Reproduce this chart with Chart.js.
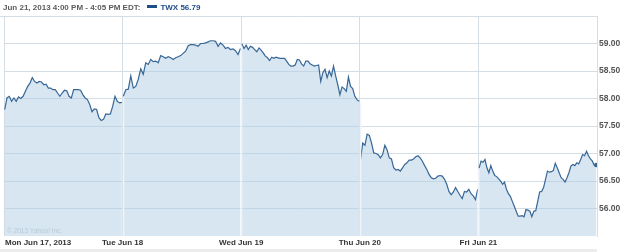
<!DOCTYPE html>
<html>
<head>
<meta charset="utf-8">
<script src="https://cdn.jsdelivr.net/npm/chart.js@4.4.1/dist/chart.umd.min.js"></script>
<style>
  body { margin: 0; background: #fff; }
  #wrap { position: relative; width: 625px; height: 252px; }
  #head {
    position: absolute; top: 3px; left: 3px;
    font: bold 8px "Liberation Sans", Arial, sans-serif; color: #5b5b5b;
    white-space: nowrap; pointer-events: none;
  }
  #head .sw { display: inline-block; width: 10px; height: 3px; background: #1f4f8a; margin: 0 3px 0 7px; vertical-align: 2px; }
  #head .tk { color: #1f4f8a; }
</style>
</head>
<body>
<div id="wrap">
  <canvas id="chart" width="625" height="252"></canvas>
  <div id="head">Jun 21, 2013 4:00 PM - 4:05 PM EDT:<span class="sw"></span><span class="tk" id="tk"></span></div>
</div>
<script>
// Подписи дней и деления оси
const dayLabels = ["Mon Jun 17, 2013", "Tue Jun 18", "Wed Jun 19", "Thu Jun 20", "Fri Jun 21"];
const yTicks = [56, 56.5, 57, 57.5, 58, 58.5, 59];
const ticker = "TWX";

// Цены по дням (шаг ~5 минут)
const monValues = [57.80, 58.01, 58.04, 57.95, 58.01, 57.95, 58.03, 58.00, 58.04, 58.13, 58.22, 58.28, 58.38, 58.31, 58.28, 58.31, 58.30, 58.25, 58.26, 58.19, 58.19, 58.16, 58.16, 58.10, 58.04, 58.10, 58.15, 58.14, 58.04, 58.01, 58.16, 58.16, 58.16, 58.15, 58.07, 58.01, 57.98, 57.89, 57.76, 57.81, 57.80, 57.65, 57.60, 57.62, 57.72, 57.71, 57.72, 57.86, 58.04, 57.95, 57.92, 57.93];
const tueValues = [58.04, 58.16, 58.17, 58.41, 58.19, 58.22, 58.35, 58.54, 58.44, 58.65, 58.62, 58.71, 58.67, 58.68, 58.65, 58.78, 58.76, 58.73, 58.76, 58.74, 58.71, 58.74, 58.76, 58.78, 58.82, 58.86, 58.96, 58.98, 58.98, 58.97, 58.95, 59.00, 59.00, 59.01, 59.03, 59.05, 59.05, 59.04, 58.95, 59.01, 58.97, 58.91, 58.93, 58.89, 58.90, 58.87, 58.80, 58.91];
const wedValues = [58.99, 58.91, 58.97, 58.89, 58.95, 58.93, 58.89, 58.85, 58.92, 58.88, 58.83, 58.77, 58.74, 58.69, 58.75, 58.73, 58.75, 58.74, 58.73, 58.73, 58.73, 58.68, 58.62, 58.59, 58.59, 58.61, 58.71, 58.70, 58.63, 58.59, 58.68, 58.68, 58.63, 58.61, 58.59, 58.60, 58.61, 58.31, 58.47, 58.53, 58.38, 58.50, 58.41, 58.59, 58.41, 58.25, 58.07, 58.21, 58.18, 58.13, 58.39, 58.22, 58.18, 58.04, 57.98, 57.95];
const thuValues = [56.89, 57.19, 57.15, 57.35, 57.33, 57.19, 57.01, 57.00, 56.98, 56.92, 56.98, 57.15, 57.07, 56.92, 56.90, 56.74, 56.70, 56.71, 56.68, 56.74, 56.80, 56.83, 56.88, 56.88, 56.90, 56.94, 56.96, 56.92, 56.86, 56.78, 56.71, 56.62, 56.56, 56.54, 56.55, 56.59, 56.60, 56.59, 56.53, 56.44, 56.31, 56.25, 56.30, 56.38, 56.31, 56.24, 56.18, 56.31, 56.30, 56.35, 56.27, 56.23, 56.16, 56.35];
const friValues = [56.74, 56.86, 56.84, 56.89, 56.74, 56.65, 56.78, 56.68, 56.60, 56.58, 56.54, 56.50, 56.44, 56.48, 56.35, 56.27, 56.22, 56.13, 56.04, 55.95, 55.86, 55.86, 55.87, 55.85, 55.98, 55.97, 55.95, 55.85, 55.95, 55.96, 56.13, 56.30, 56.31, 56.38, 56.53, 56.68, 56.66, 56.67, 56.69, 56.82, 56.74, 56.65, 56.56, 56.53, 56.48, 56.56, 56.65, 56.77, 56.80, 56.78, 56.83, 56.81, 56.89, 56.98, 56.96, 57.04, 56.96, 56.90, 56.86, 56.78, 56.79];

const days = [monValues, tueValues, wedValues, thuValues, friValues];
const lastPrice = friValues[friValues.length - 1];
document.getElementById("tk").textContent = `${ticker} ${lastPrice.toFixed(2)}`;

const LINE = "#386796";
const FILL = "rgba(175, 205, 227, 0.5)";
const GRID = "#d5dde5";

// Каждый торговый день растягиваем на свою долю оси X
const datasets = days.map((vals, d) => ({
  data: vals.map((v, i) => ({ x: d + 0.006 + (i / (vals.length - 1)) * 0.988, y: v })),
  borderColor: LINE,
  borderWidth: 1.2,
  backgroundColor: FILL,
  fill: "start",
  tension: 0,
  pointRadius: (c) => (d === 4 && c.dataIndex === vals.length - 1 ? 2.2 : 0),
  pointBackgroundColor: LINE,
  pointBorderWidth: 0,
}));

const decor = {
  id: "decor",
  beforeDraw(chart) {
    const { ctx, width, height } = chart;
    ctx.save();
    ctx.fillStyle = "#fff";
    ctx.fillRect(0, 0, width, height);
    ctx.fillStyle = "#ececec";
    ctx.fillRect(0, height - 3, chart.chartArea.right, 3);
    ctx.restore();
  },
  afterDatasetsDraw(chart) {
    const { ctx, chartArea: a, scales } = chart;
    const xs = scales.x, ys = scales.y;
    ctx.save();
    // светлые разделители дней внутри заливки
    ctx.strokeStyle = "#eef4f9";
    ctx.lineWidth = 1.5;
    for (let b = 1; b < days.length; b++) {
      const prev = days[b - 1][days[b - 1].length - 1];
      const next = days[b][0];
      const px = Math.round(xs.getPixelForValue(b)) + 0.5;
      const top = ys.getPixelForValue(Math.max(prev, next)) + 1.5;
      ctx.beginPath();
      ctx.moveTo(px, top);
      ctx.lineTo(px, a.bottom);
      ctx.stroke();
    }
    // верхняя граница
    ctx.strokeStyle = GRID;
    ctx.lineWidth = 1;
    ctx.beginPath();
    ctx.moveTo(0, Math.round(a.top) + 0.5);
    ctx.lineTo(a.right, Math.round(a.top) + 0.5);
    ctx.stroke();
    // копирайт
    ctx.fillStyle = "#b8c9d7";
    ctx.font = '6.5px "Liberation Sans", Arial, sans-serif';
    ctx.textBaseline = "middle";
    ctx.textAlign = "left";
    ctx.fillText("\u00a9 2013 Yahoo! Inc.", a.left + 3, a.bottom - 5);
    ctx.restore();
  },
  afterDraw(chart) {
    const { ctx, chartArea: a, scales } = chart;
    ctx.save();
    ctx.fillStyle = "#333";
    ctx.font = 'bold 8px "Liberation Sans", Arial, sans-serif';
    ctx.textBaseline = "middle";
    dayLabels.forEach((lab, i) => {
      const px = scales.x.getPixelForValue(i);
      ctx.textAlign = i === 0 ? "left" : "center";
      ctx.fillText(lab, i === 0 ? px + 1 : px, a.bottom + 7);
    });
    ctx.restore();
  },
};

new Chart(document.getElementById("chart"), {
  type: "line",
  data: { datasets },
  plugins: [decor],
  options: {
    responsive: false,
    animation: false,
    events: [],
    layout: { padding: { left: 2, top: 16, right: 0, bottom: 0 } },
    plugins: { legend: { display: false }, tooltip: { enabled: false } },
    scales: {
      x: {
        type: "linear",
        min: 0,
        max: days.length,
        ticks: { display: false, stepSize: 1 },
        grid: { color: GRID, drawTicks: false },
        border: { display: false },
        afterFit: (s) => { s.height = 16; },
      },
      y: {
        position: "right",
        min: 55.5,
        max: 59.5,
        afterBuildTicks: (s) => { s.ticks = yTicks.map((v) => ({ value: v })); },
        ticks: {
          padding: 2,
          color: "#555",
          font: { family: "Liberation Sans", size: 8.5, weight: "bold" },
          callback: (v) => Number(v).toFixed(2),
        },
        grid: { color: GRID, drawTicks: false },
        border: { color: GRID },
        afterFit: (s) => { s.width = 28; },
      },
    },
  },
});
</script>
</body>
</html>
